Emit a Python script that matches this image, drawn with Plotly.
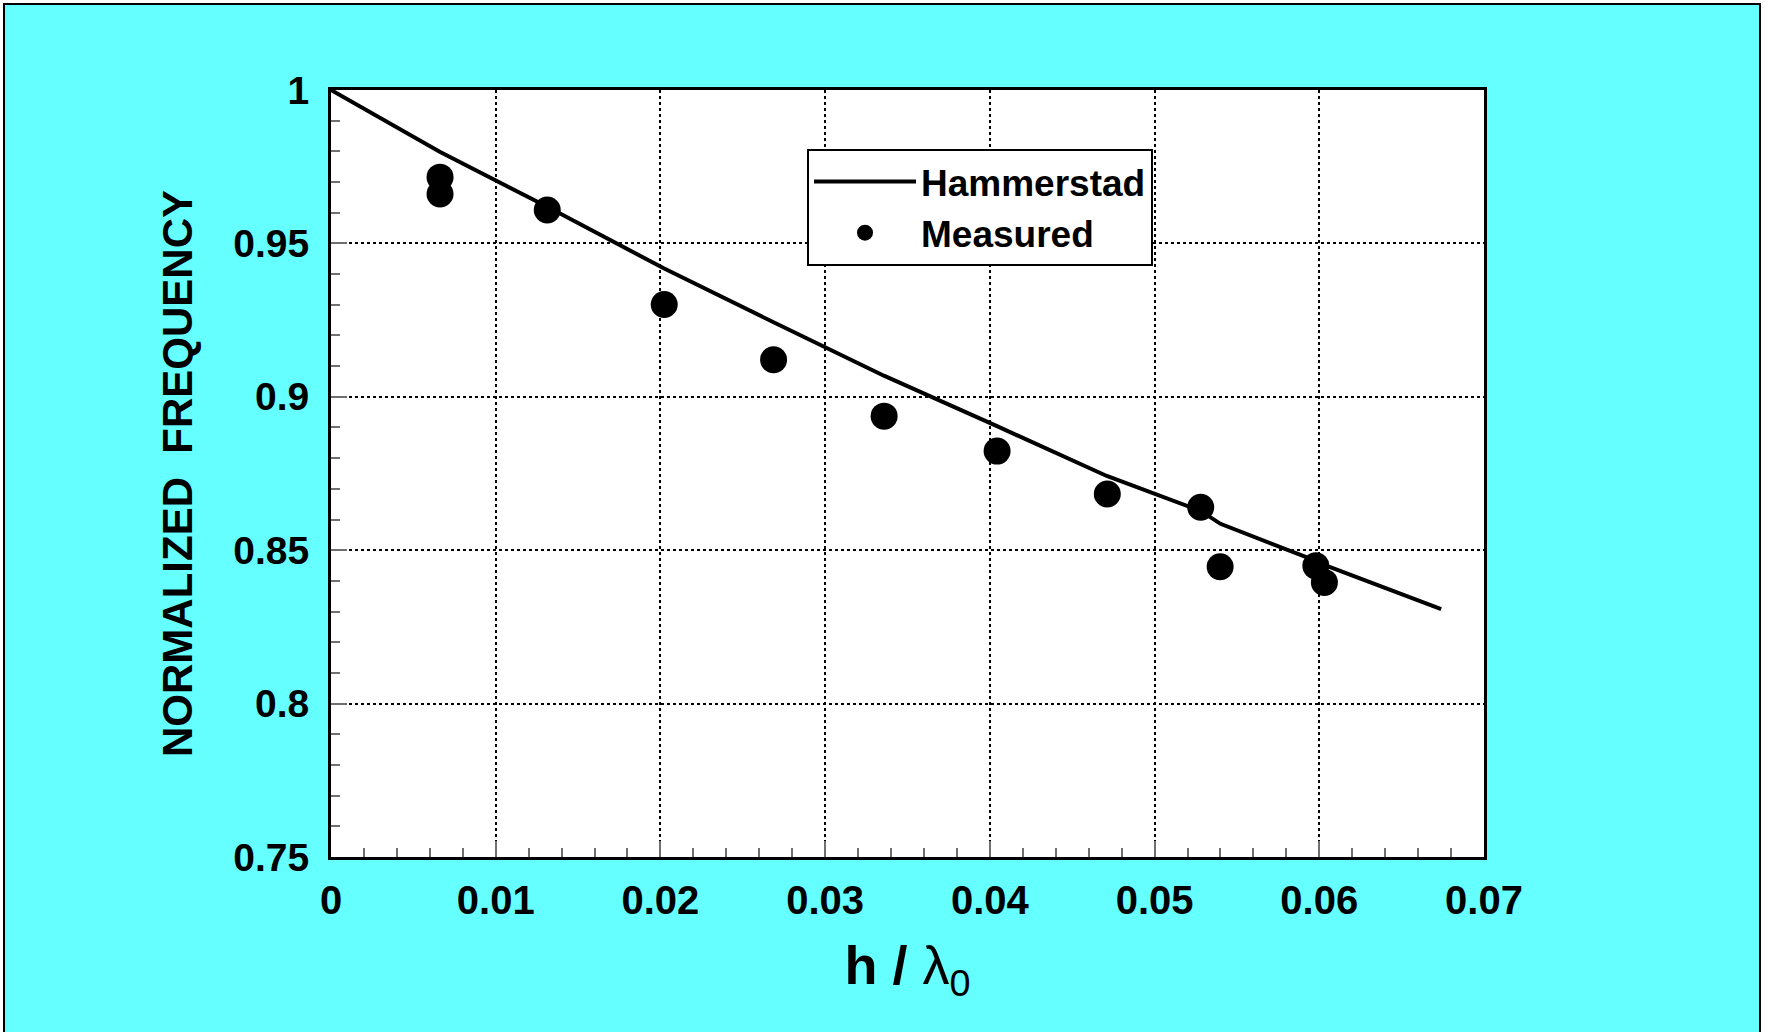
import plotly.graph_objects as go

# ---- data ----
meas_x = [0.00662, 0.00662, 0.01313, 0.02023, 0.02687, 0.03358, 0.04044, 0.04713, 0.05280, 0.05398, 0.05979, 0.06031]
meas_y = [0.9716, 0.9661, 0.9609, 0.9301, 0.9121, 0.8937, 0.8823, 0.8683, 0.8640, 0.8446, 0.8449, 0.8395]

ham_x = [0.0, 0.0066, 0.0131, 0.0202, 0.0269, 0.0336, 0.0404, 0.0471, 0.0528, 0.0540, 0.0598, 0.0603, 0.0674]
ham_y = [1.0, 0.9799, 0.9620, 0.9419, 0.9242, 0.9068, 0.8905, 0.8742, 0.8628, 0.8586, 0.8465, 0.8452, 0.8308]

x_ticks = [0, 0.01, 0.02, 0.03, 0.04, 0.05, 0.06, 0.07]
x_labels = ["0", "0.01", "0.02", "0.03", "0.04", "0.05", "0.06", "0.07"]
y_ticks = [0.75, 0.8, 0.85, 0.9, 0.95, 1.0]
y_labels = ["0.75", "0.8", "0.85", "0.9", "0.95", "1"]

FONT = "Arial, Liberation Sans, sans-serif"
CYAN = "#66FFFF"

fig = go.Figure()
fig.add_trace(go.Scatter(x=ham_x, y=ham_y, mode="lines", name="Hammerstad",
                         line=dict(color="black", width=4)))
fig.add_trace(go.Scatter(x=meas_x, y=meas_y, mode="markers", name="Measured",
                         marker=dict(color="black", size=27, symbol="circle")))

W, H = 1768, 1032
L, R, T, B = 331, 1484, 90, 857
pw, ph = R - L, B - T

def px(xp):
    return (xp - L) / pw

def py(yp):
    return (B - yp) / ph

shapes = [
    # white strips outside the outer frame
    dict(type="rect", xref="paper", yref="paper", x0=px(0), x1=px(W), y0=py(0), y1=py(3),
         fillcolor="white", line=dict(width=0), layer="below"),
    dict(type="rect", xref="paper", yref="paper", x0=px(0), x1=px(3), y0=py(H), y1=py(0),
         fillcolor="white", line=dict(width=0), layer="below"),
    dict(type="rect", xref="paper", yref="paper", x0=px(1761), x1=px(W), y0=py(H), y1=py(0),
         fillcolor="white", line=dict(width=0), layer="below"),
    # outer frame
    dict(type="rect", xref="paper", yref="paper", x0=px(4), x1=px(1760), y0=py(1040), y1=py(4),
         fillcolor="rgba(0,0,0,0)", line=dict(color="black", width=2), layer="below"),
]

axis_common = dict(
    showline=True, linecolor="black", linewidth=3, mirror=True,
    showgrid=True, gridcolor="black", gridwidth=2, griddash="dot",
    ticks="inside", ticklen=16, tickwidth=2, tickcolor="#707070",
    zeroline=False,
)

fig.update_layout(
    width=W, height=H,
    margin=dict(l=L, r=W - R, t=T, b=H - B, autoexpand=False),
    paper_bgcolor=CYAN, plot_bgcolor="white",
    shapes=shapes,
    showlegend=True,
    legend=dict(x=px(807), y=py(149), xanchor="left", yanchor="top",
                bgcolor="white", bordercolor="black", borderwidth=2,
                font=dict(family=FONT, size=37, color="black", weight="bold"),
                itemwidth=102, tracegroupgap=0),
    xaxis=dict(range=[0, 0.07], tickvals=x_ticks, ticktext=x_labels,
               ticklabelstandoff=6,
               tickfont=dict(family=FONT, size=40, color="black", weight="bold"),
               minor=dict(dtick=0.002, ticks="inside", ticklen=9, tickwidth=2,
                          tickcolor="#707070", showgrid=False),
               title=dict(text="<b>h / </b>λ<sub>0</sub>", standoff=26,
                          font=dict(family=FONT, size=54, color="black")),
               **axis_common),
    yaxis=dict(range=[0.75, 1.0], tickvals=y_ticks, ticktext=y_labels,
               ticklabelstandoff=11,
               tickfont=dict(family=FONT, size=39, color="black", weight="bold"),
               minor=dict(dtick=0.01, ticks="inside", ticklen=9, tickwidth=2,
                          tickcolor="#707070", showgrid=False),
               title=dict(text="NORMALIZED  FREQUENCY", standoff=28,
                          font=dict(family=FONT, size=42, color="black", weight="bold")),
               **axis_common),
)

fig.write_html("out.html")
